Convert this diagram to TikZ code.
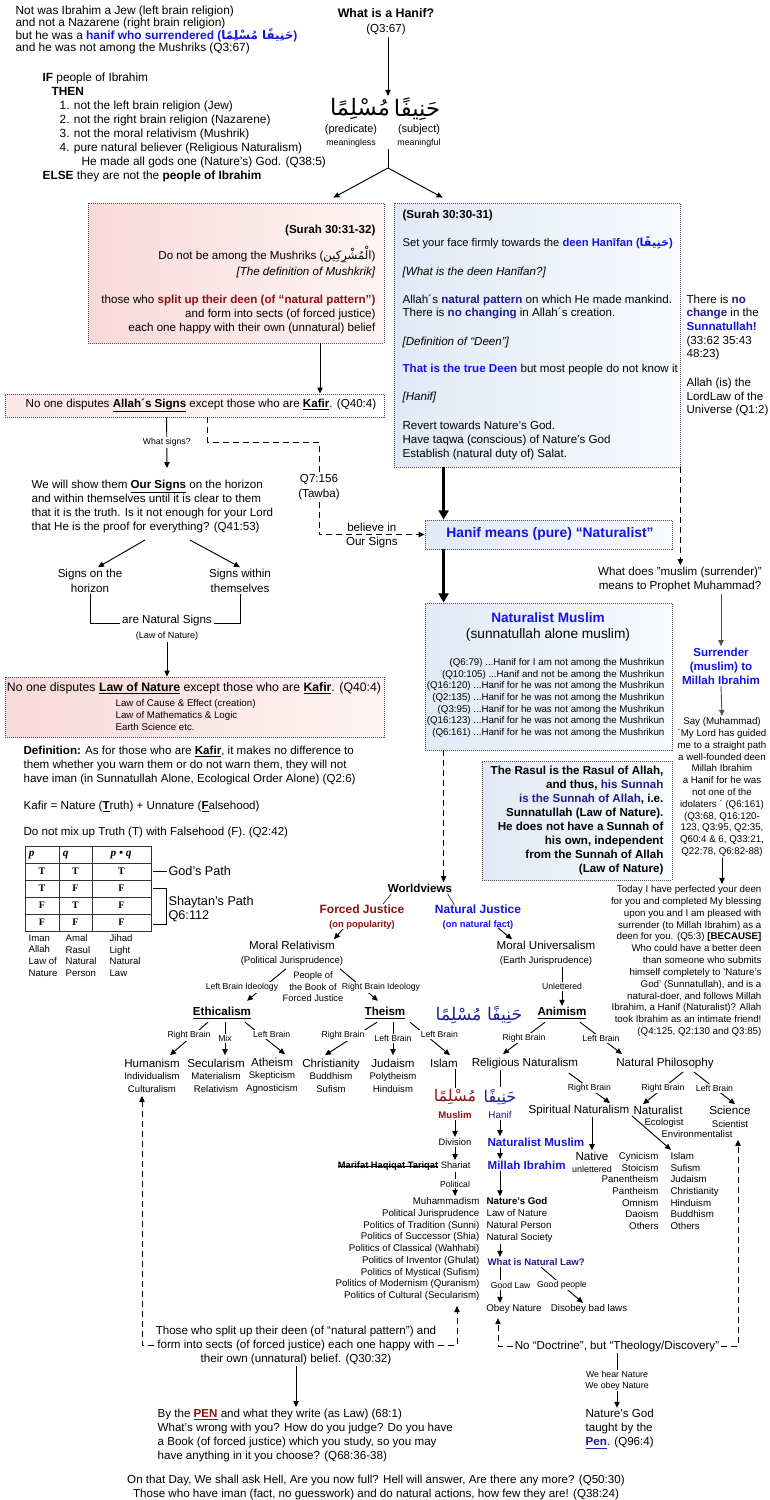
\documentclass[tikz,border=0pt]{standalone}
\usepackage{fontspec}
\usepackage{xcolor}
\usetikzlibrary{positioning,arrows.meta,calc,fit}
\setmainfont{Liberation Sans}
\newfontfamily\arabicfont[Script=Arabic]{DejaVu Sans}
\newfontfamily\tabfont{Liberation Serif}
\TeXXeTstate=1
\definecolor{hblue}{HTML}{1414E6}
\definecolor{hnavy}{HTML}{1E1E8C}
\definecolor{hred}{HTML}{8E1212}
\definecolor{pinkA}{HTML}{F9D9D9}
\definecolor{pinkB}{HTML}{FFF4F4}
\definecolor{pinkC}{HTML}{FBE6E6}
\definecolor{blueA}{HTML}{E2E9F5}
\definecolor{blueB}{HTML}{F8FAFD}
\definecolor{arrowgray}{HTML}{505050}
\newcommand{\fmain}{\fontsize{8.7}{10.5}\selectfont}
\newcommand{\subtxt}[1]{{\fontsize{7.2}{8}\selectfont #1}}
\newcommand{\arab}[1]{{\arabicfont\beginR #1\endR}}
\newsavebox{\strikebox}
\newcommand{\strikeout}[1]{\sbox{\strikebox}{#1}\rlap{\usebox{\strikebox}}\rule[0.3ex]{\wd\strikebox}{0.45pt}}

\begin{document}
\begin{tikzpicture}[x=0.75pt,y=-0.75pt,every node/.style={font=\fmain,inner sep=1pt}]
  \tikzstyle{arr}=[-{Triangle[length=4.5pt,width=4pt]},line width=0.7pt]
  \tikzstyle{grayarr}=[arr,draw=arrowgray]
  \tikzstyle{thickarr}=[-{Triangle[length=7pt,width=7.5pt]},line width=2.2pt]
  \tikzstyle{dashline}=[line width=0.7pt,dash pattern=on 4.5pt off 3pt]
  \tikzstyle{dasharr}=[dashline,-{Triangle[length=4.5pt,width=4pt]}]
  \tikzstyle{lbl}=[font=\fontsize{6.5}{7.6}\selectfont,fill=white,inner sep=1pt]
  \tikzstyle{redpanel}=[draw=black!70,line width=0.6pt,dash pattern=on 0.75pt off 0.75pt,
                        left color=pinkA,right color=pinkB,inner sep=0pt]
  \tikzstyle{signpanel}=[draw=black!70,line width=0.6pt,dash pattern=on 0.75pt off 0.75pt,
                        left color=pinkC,right color=white,inner sep=0pt]
  \tikzstyle{bluepanel}=[draw=black!70,line width=0.6pt,dash pattern=on 0.75pt off 0.75pt,
                        left color=blueA,right color=blueB,inner sep=0pt]
  \tikzstyle{wvitem}=[align=center,font=\fontsize{8.7}{9.4}\selectfont]
  \tikzstyle{tabcell}=[font=\tabfont\bfseries\fontsize{7.5}{8}\selectfont,inner sep=0.5pt]
  \tikzstyle{tabline}=[line width=0.6pt,draw=black!80]
  \useasboundingbox (0,0) rectangle (770,1500);
  \fill[white] (0,0) rectangle (770,1500);

  % panels
  \node[redpanel,fit={(88,203) (384,343)}] (surahred) {};
  \node[bluepanel,fit={(394,203) (680,467)}] (surahblue) {};
  \node[signpanel,fit={(5,394) (384,417)}] (disputes) {};
  \node[redpanel,fit={(5,677) (384,737)}] (lawpanel) {};
  \node[bluepanel,fit={(425,520) (672,549)}] (hanifnat) {};
  \node[bluepanel,fit={(425,603) (672,750)}] (natpanel) {};
  \node[bluepanel,fit={(482,761) (672,880)}] (rasulpanel) {};

  % top
  \node[anchor=west,align=left,font=\fontsize{8.9}{9.2}\selectfont] (intro) at (14,30)
    {Not was Ibrahim a Jew (left brain religion)\\and not a Nazarene (right brain religion)\\
     but he was a \textcolor{hblue}{\textbf{hanif who surrendered (\smash{\arab{حَنِيفًا مُسْلِمًا}})}}\\
     and he was not among the Mushriks (Q3:67)};
  \node[anchor=west,align=left,font=\fontsize{8.9}{10.5}\selectfont] (ifthen) at (41,127)
    {\textbf{IF} people of Ibrahim\\\hspace*{6.8pt}\textbf{THEN}\\
     \hspace*{12.8pt}1. not the left brain religion (Jew)\\
     \hspace*{12.8pt}2. not the right brain religion (Nazarene)\\
     \hspace*{12.8pt}3. not the moral relativism (Mushrik)\\
     \hspace*{12.8pt}4. pure natural believer (Religious Naturalism)\\
     \hspace*{29.3pt}He made all gods one (Nature’s) God. (Q38:5)\\
     \textbf{ELSE} they are not the \textbf{people of Ibrahim}};
  \node[align=center,font=\fontsize{8.7}{11.2}\selectfont] (title) at (386,22)
    {{\fontsize{9.3}{11.2}\selectfont\bfseries What is a Hanif?}\\(Q3:67)};
  \node[font=\fontsize{17}{20}\selectfont] (armuslim) at (360,109) {\arab{مُسْلِمًا}};
  \node[font=\fontsize{17}{20}\selectfont] (arhanif) at (417,109) {\arab{حَنِيفًا}};
  \node[align=center,font=\fontsize{8.2}{9.8}\selectfont] (pred) at (351,136)
    {(predicate)\\{\fontsize{6.6}{8}\selectfont meaningless}};
  \node[align=center,font=\fontsize{8.2}{9.8}\selectfont] (subj) at (419,136)
    {(subject)\\{\fontsize{6.6}{8}\selectfont meaningful}};
  \coordinate (fork) at (388,168);

  % red panel text
  \node[anchor=east] (redhead) at (377,230) {\textbf{(Surah 30:31-32)}};
  \node[anchor=east] (redmush) at (377,255) {Do not be among the Mushriks (\arab{الْمُشْرِكِين})};
  \node[anchor=east] (reddef) at (377,272) {\textit{[The definition of Mushkrik]}};
  \node[anchor=east,align=right] (redsplit) at (377,314)
    {those who \textcolor{hred}{\textbf{split up their deen (of “natural pattern”)}}\\
     and form into sects (of forced justice)\\each one happy with their own (unnatural) belief};

  % blue panel text
  \node[anchor=west] (bluehead) at (401,215) {\textbf{(Surah 30:30-31)}};
  \node[anchor=west,font=\fontsize{8.4}{10}\selectfont] (blueset) at (401,243)
    {Set your face firmly towards the \textcolor{hblue}{\textbf{deen Hanīfan (\arab{حَنِيفًا})}}};
  \node[anchor=west] (bluewhat) at (401,272) {\textit{[What is the deen Hanīfan?]}};
  \node[anchor=west,align=left,font=\fontsize{8.7}{9.8}\selectfont] (bluepat) at (401,306.5)
    {Allah´s \textcolor{hnavy}{\textbf{natural pattern}} on which He made mankind.\\
     There is \textcolor{hnavy}{\textbf{no changing}} in Allah´s creation.};
  \node[anchor=west] (bluedef) at (401,342) {\textit{[Definition of “Deen”]}};
  \node[anchor=west] (bluetrue) at (401,369)
    {\textcolor{hblue}{\textbf{That is the true Deen}} but most people do not know it};
  \node[anchor=west] (bluehanif) at (401,397) {\textit{[Hanif]}};
  \node[anchor=west,align=left] (bluerevert) at (401,440)
    {Revert towards Nature’s God.\\Have taqwa (conscious) of Nature’s God\\Establish (natural duty of) Salat.};
  \node[anchor=west,align=left,font=\fontsize{8.7}{10.3}\selectfont] (nochange) at (685,327.5)
    {There is \textcolor{hnavy}{\textbf{no}}\\\textcolor{hnavy}{\textbf{change}} in the\\
     \textcolor{hblue}{\textbf{Sunnatullah!}}\\(33:62 35:43\\48:23)};
  \node[anchor=west,align=left,font=\fontsize{8.7}{10.3}\selectfont] (lordlaw) at (685,397)
    {Allah (is) the\\LordLaw of the\\Universe (Q1:2)};

  % signs
  \node (disputestxt) at (201,405.5)
    {No one disputes \underline{\textbf{Allah´s Signs}} except those who are \underline{\textbf{Kafir}}. (Q40:4)};
  \node[anchor=north west,align=left] (showtxt) at (30,478)
    {We will show them \underline{\textbf{Our Signs}} on the horizon\\
     and within themselves until it is clear to them\\
     that it is the truth. Is it not enough for your Lord\\
     that He is the proof for everything? (Q41:53)};
  \node[align=center,font=\fontsize{8.7}{11.2}\selectfont] (tawba) at (319,487.5) {Q7:156\\(Tawba)};
  \node[align=center,font=\fontsize{8.7}{11.2}\selectfont] (horizon) at (90,580.5) {Signs on the\\horizon};
  \node[align=center,font=\fontsize{8.7}{11.2}\selectfont] (within) at (240,580.5) {Signs within\\themselves};
  \node[anchor=base,inner sep=1.5pt] (natsigns) at (167,623) {are Natural Signs};
  \node[font=\fontsize{6.8}{8}\selectfont] (lawnat) at (167,636) {(Law of Nature)};
  \node[font=\fontsize{9.2}{11}\selectfont] (lawtxt) at (194,688)
    {No one disputes \underline{\textbf{Law of Nature}} except those who are \underline{\textbf{Kafir}}. (Q40:4)};
  \node[anchor=west,align=left,font=\fontsize{7.3}{9}\selectfont] (lawlist) at (114,715)
    {Law of Cause \& Effect (creation)\\Law of Mathematics \& Logic\\Earth Science etc.};
  \node[anchor=west,align=left] (defkafir) at (22,765)
    {\textbf{Definition:} As for those who are \underline{\textbf{Kafir}}, it makes no difference to\\
     them whether you warn them or do not warn them, they will not\\
     have iman (in Sunnatullah Alone, Ecological Order Alone) (Q2:6)};
  \node[anchor=west] (kafireq) at (22,807)
    {Kafir = Nature (\underline{\textbf{T}}ruth) + Unnature (\underline{\textbf{F}}alsehood)};
  \node[anchor=west] (mixup) at (22,832) {Do not mix up Truth (T) with Falsehood (F). (Q2:42)};

  % truth table
  \draw[tabline] (25,846) rectangle (151,931);
  \foreach \y in {863,880,897,914} \draw[tabline] (25,\y) -- (151,\y);
  \foreach \x in {59,92} \draw[tabline] (\x,846) -- (\x,931);
  \node[tabcell,font=\tabfont\bfseries\itshape\fontsize{8.5}{9}\selectfont,anchor=west] (hp) at (28,855) {p};
  \node[tabcell,font=\tabfont\bfseries\itshape\fontsize{8.5}{9}\selectfont,anchor=west] (hq) at (62,855) {q};
  \node[tabcell,font=\tabfont\bfseries\itshape\fontsize{8.5}{9}\selectfont] (hpq) at (121,855) {p • q};
  \foreach \ca/\cb/\cc [count=\i] in {T/T/T,T/F/F,F/T/F,F/F/F} {
    \node[tabcell] (cp\i) at (42,{854.5+17*\i}) {\ca};
    \node[tabcell] (cq\i) at (75.5,{854.5+17*\i}) {\cb};
    \node[tabcell] (cpq\i) at (121.5,{854.5+17*\i}) {\cc};
  }
  \coordinate (row1end) at (153,871);
  \node[anchor=west,font=\fontsize{9.5}{11.5}\selectfont] (godpath) at (167,871) {God's Path};
  \draw (row1end) -- (godpath.west);
  \draw (153,888) -| (166,924) -- (153,924);
  \node[anchor=west,align=left,font=\fontsize{9.5}{10.5}\selectfont] (shaytan) at (167,909) {Shaytan's Path\\Q6:112};
  \node[anchor=west,align=left,font=\fontsize{7.2}{8.8}\selectfont] (colp) at (27,955.5) {Iman\\Allah\\Law of\\Nature};
  \node[anchor=west,align=left,font=\fontsize{7.2}{8.8}\selectfont] (colq) at (64,955.5) {Amal\\Rasul\\Natural\\Person};
  \node[anchor=west,align=left,font=\fontsize{7.2}{8.8}\selectfont] (colpq) at (108,955.5) {Jihad\\Light\\Natural\\Law};

  % right column
  \node[font=\fontsize{10.4}{12}\selectfont\bfseries,text=hblue] (hanifnattxt) at (550,534)
    {Hanif means (pure) “Naturalist”};
  \node[align=center,font=\fontsize{8.7}{11.2}\selectfont] (muslimq) at (680,579.5)
    {What does "muslim (surrender)"\\means to Prophet Muhammad?};
  \node[align=center,font=\fontsize{8.7}{10.5}\selectfont\bfseries,text=hblue] (surrender) at (721,666)
    {Surrender\\(muslim) to\\Millah Ibrahim};
  \node[align=center,font=\fontsize{7.3}{8.85}\selectfont] (saytxt) at (722,787)
    {Say (Muhammad)\\´My Lord has guided\\me to a straight path\\a well-founded deen\\Millah Ibrahim\\
     a Hanif for he was\\not one of the\\idolaters ´ (Q6:161)\\(Q3:68, Q16:120-\\123, Q3:95, Q2:35,\\
     Q60:4 \& 6, Q33:21,\\Q22:78, Q6:82-88)};
  \node[anchor=east,align=right,font=\fontsize{7.3}{8.87}\selectfont] (todaytxt) at (763,961)
    {Today I have perfected your deen\\for you and completed My blessing\\upon you and I am pleased with\\
     surrender (to Millah Ibrahim) as a\\deen for you. (Q5:3) \textbf{[BECAUSE]}\\
     Who could have a better deen\\than someone who submits\\himself completely to 'Nature's\\
     God' (Sunnatullah), and is a\\natural-doer, and follows Millah\\
     Ibrahim, a Hanif (Naturalist)? Allah\\took Ibrahim as an intimate friend!\\(Q4:125, Q2:130 and Q3:85)};
  \node[font=\fontsize{10.2}{12}\selectfont\bfseries,text=hblue] (natmtitle) at (548,618) {Naturalist Muslim};
  \node[font=\fontsize{10.3}{12}\selectfont] (natmsub) at (548,635) {(sunnatullah alone muslim)};
  \node[anchor=east,align=right,font=\fontsize{7.3}{8.75}\selectfont] (natmlist) at (666,698)
    {(Q6:79) ...Hanif for I am not among the Mushrikun\\
     (Q10:105) ...Hanif and not be among the Mushrikun\\
     (Q16:120) ...Hanif for he was not among the Mushrikun\\
     (Q2:135) ...Hanif for he was not among the Mushrikun\\
     (Q3:95) ...Hanif for he was not among the Mushrikun\\
     (Q16:123) ...Hanif for he was not among the Mushrikun\\
     (Q6:161) ...Hanif for he was not among the Mushrikun};
  \node[anchor=east,align=right,font=\fontsize{8.7}{10.5}\selectfont\bfseries] (rasultxt) at (665,820)
    {The Rasul is the Rasul of Allah,\\and thus, \textcolor{hnavy}{his Sunnah}\\
     \textcolor{hnavy}{is the Sunnah of Allah}, i.e.\\Sunnatullah (Law of Nature).\\
     He does not have a Sunnah of\\his own, independent\\from the Sunnah of Allah\\(Law of Nature)};

  % worldviews
  \node[font=\fontsize{8.7}{10}\selectfont\bfseries] (worldviews) at (420,888) {Worldviews};
  \node[align=center,text=hred,font=\fontsize{9}{10.5}\selectfont\bfseries] (forced) at (362,917)
    {Forced Justice\\{\fontsize{7}{8}\selectfont (on popularity)}};
  \node[align=center,text=hblue,font=\fontsize{9}{10.5}\selectfont\bfseries] (natjust) at (478,917)
    {Natural Justice\\{\fontsize{7}{8}\selectfont (on natural fact)}};
  \node[align=center] (moralrel) at (292,953) {Moral Relativism\\\subtxt{(Political Jurisprudence)}};
  \node[align=center] (moraluni) at (546,953) {Moral Universalism\\\subtxt{(Earth Jurisprudence)}};
  \node[align=center,font=\fontsize{7}{8.6}\selectfont] (bookforced) at (313,987)
    {People of\\the Book of\\Forced Justice};
  \node[font=\fontsize{8.7}{10}\selectfont\bfseries] (ethic) at (222,1013) {\underline{Ethicalism}};
  \node[font=\fontsize{8.7}{10}\selectfont\bfseries] (theism) at (385,1013) {\underline{Theism}};
  \node[font=\fontsize{13}{15}\selectfont,text=hnavy] (armid) at (479,1015) {\arab{حَنِيفًا مُسْلِمًا}};
  \node[font=\fontsize{8.7}{10}\selectfont\bfseries] (animism) at (562,1013) {\underline{Animism}};

  \node[wvitem] (human) at (152,1075.5) {Humanism\\\subtxt{Individualism}\\\subtxt{Culturalism}};
  \node[wvitem] (secular) at (216,1075.5) {Secularism\\\subtxt{Materialism}\\\subtxt{Relativism}};
  \node[wvitem] (atheism) at (272,1075.5) {Atheism\\\subtxt{Skepticism}\\\subtxt{Agnosticism}};
  \node[wvitem] (christ) at (331,1075.5) {Christianity\\\subtxt{Buddhism}\\\subtxt{Sufism}};
  \node[wvitem] (judaism) at (393,1075.5) {Judaism\\\subtxt{Polytheism}\\\subtxt{Hinduism}};
  \node[wvitem] (islam) at (444,1063) {Islam};
  \node[wvitem] (relnat) at (525,1063) {Religious Naturalism};
  \node[wvitem] (natphil) at (665,1063) {Natural Philosophy};

  % islam column
  \node[font=\fontsize{12}{14}\selectfont,text=hred] (armus2) at (455,1097) {\arab{مُسْلِمًا}};
  \node[font=\fontsize{7.2}{8}\selectfont\bfseries,text=hred] (muslimlbl) at (455,1115) {Muslim};
  \node[font=\fontsize{7}{8}\selectfont] (division) at (455,1142) {Division};
  \node[anchor=east,font=\fontsize{7}{8}\selectfont] (shariat) at (472,1166)
    {\strikeout{\textbf{Marifat Haqiqat Tariqat}} Shariat};
  \node[anchor=east,align=right,font=\fontsize{7.3}{8.8}\selectfont] (politics) at (481,1249)
    {Muhammadism\\Political Jurisprudence\\Politics of Tradition (Sunni)\\Politics of Successor (Shia)\\
     Politics of Classical (Wahhabi)\\Politics of Inventor (Ghulat)\\Politics of Mystical (Sufism)\\
     Politics of Modernism (Quranism)\\Politics of Cultural (Secularism)};

  % hanif column
  \node[font=\fontsize{12}{14}\selectfont,text=hnavy] (arhan2) at (500,1097) {\arab{حَنِيفًا}};
  \node[font=\fontsize{7.4}{8}\selectfont,text=hnavy] (hanif2) at (500,1115) {Hanif};
  \node[anchor=west,font=\fontsize{8.7}{10}\selectfont\bfseries,text=hblue] (natmus2) at (486,1142) {Naturalist Muslim};
  \node[anchor=west,font=\fontsize{8.7}{10}\selectfont\bfseries,text=hblue] (millah2) at (486,1165) {Millah Ibrahim};
  \node[anchor=west,align=left,font=\fontsize{7.3}{8.8}\selectfont] (natgod) at (485,1220)
    {\textbf{Nature’s God}\\Law of Nature\\Natural Person\\Natural Society};
  \node[anchor=west,font=\fontsize{7.2}{8}\selectfont\bfseries,text=hnavy] (whatlaw) at (486,1262) {What is Natural Law?};
  \node[font=\fontsize{7.3}{8}\selectfont] (obey) at (514,1309) {Obey Nature};
  \node[font=\fontsize{7.3}{8}\selectfont] (disobey) at (589,1309) {Disobey bad laws};

  % natural philosophy column
  \node[wvitem] (spiritual) at (579,1110) {Spiritual Naturalism};
  \node[wvitem] (naturalist) at (658,1110) {Naturalist};
  \node[font=\fontsize{7.2}{8}\selectfont] (ecol) at (664,1123) {Ecologist};
  \node[font=\fontsize{7.2}{8}\selectfont] (envir) at (697,1134) {Environmentalist};
  \node[align=center,font=\fontsize{8.7}{9.8}\selectfont] (science) at (730,1116.5) {Science\\\subtxt{Scientist}};
  \node[align=center,font=\fontsize{8.7}{9}\selectfont] (native) at (592,1162)
    {Native\\{\fontsize{6.7}{8}\selectfont unlettered}};
  \node[anchor=east,align=right,font=\fontsize{7.3}{8.75}\selectfont] (cynic) at (660,1191)
    {Cynicism\\Stoicism\\Panentheism\\Pantheism\\Omnism\\Daoism\\Others};
  \node[anchor=west,align=left,font=\fontsize{7.3}{8.75}\selectfont] (isl) at (669,1191)
    {Islam\\Sufism\\Judaism\\Christianity\\Hinduism\\Buddhism\\Others};

  % bottom
  \node (nodoc) at (617,1346) {No “Doctrine”, but “Theology/Discovery”};
  \node[anchor=west,align=left] (taught) at (584,1429)
    {Nature’s God\\taught by the\\\textcolor{hnavy}{\underline{\textbf{Pen}}}. (Q96:4)};
  \node[align=center] (splitup) at (296,1345)
    {Those who split up their deen (of “natural pattern”) and\\
     form into sects (of forced justice) each one happy with\\their own (unnatural) belief. (Q30:32)};
  \node[anchor=west,align=left] (pentxt) at (156,1435)
    {By the \textcolor{hred}{\underline{\textbf{PEN}}} and what they write (as Law) (68:1)\\
     What’s wrong with you? How do you judge? Do you have\\
     a Book (of forced justice) which you study, so you may\\
     have anything in it you choose? (Q68:36-38)};
  \node[align=center] (lastday) at (376,1487)
    {On that Day, We shall ask Hell, Are you now full? Hell will answer, Are there any more? (Q50:30)\\
     Those who have iman (fact, no guesswork) and do natural actions, how few they are! (Q38:24)};

  % connectors: top
  \draw[arr] (fork |- title.south) -- (fork |- arhanif.north);
  \draw (fork |- pred.south) -- (fork);
  \draw[arr] (fork) -- ($(surahred.north east)+(-51,-5)$);
  \draw[arr] (fork) -- ($(surahblue.north west)+(49,-5)$);
  \draw[arr] ($(surahred.south)+(84,0)$) -- ($(disputes.north)+(125.5,0)$);
  \draw[arr] ($(disputes.south west)+(162,0)$) -- node[lbl]{What signs?} ($(showtxt.north west)+(137,-10)$);
  \draw[dashline] ($(disputes.south west)+(203,0)$) -- ++(0,25) -| (tawba.north);
  \draw[dasharr] (tawba.south) |- node[pos=0.75,above,inner sep=1.5pt]{believe in}
                                  node[pos=0.75,below,inner sep=1.5pt]{Our Signs} (hanifnat.west);
  \draw[arr] ($(showtxt.south west)+(115,6)$) -- ($(horizon.north)+(8,0)$);
  \draw[arr] ($(showtxt.south west)+(160,6)$) -- (within.north);
  \draw (horizon.south) |- (natsigns.base west);
  \draw (natsigns.base east) -| (within.south);
  \draw[arr] (lawnat.south) -- (lawnat.south |- lawpanel.north);

  % connectors: right column
  \draw[thickarr] ($(surahblue.south west)+(50,0)$) -- ($(hanifnat.north west)+(19,0)$);
  \draw[thickarr] ($(hanifnat.south west)+(19,0)$) -- ($(natpanel.north west)+(19,0)$);
  \draw[dasharr] (surahblue.south east) -- (surahblue.south east |- muslimq.north);
  \draw[grayarr] (surrender.north |- muslimq.south) -- (surrender.north);
  \draw[grayarr] (surrender.south) -- (saytxt.north);
  \draw[arr] (saytxt.south) -- (saytxt.south |- todaytxt.north);
  \coordinate (wvx) at ($(natpanel.south west)+(19,0)$);
  \draw[dasharr] (wvx) -- (wvx |- worldviews.north);

  % connectors: worldviews
  \draw ($(worldviews.south west)+(5,0)$) -- ($(forced.north east)+(-23,1)$);
  \draw ($(worldviews.south east)+(-6,0)$) -- ($(natjust.north west)+(21,2)$);
  \draw[arr] ($(forced.south)+(-19,-2)$) -- ($(moralrel.north)+(42,0)$);
  \draw[arr] ($(natjust.south)+(20,-3)$) -- ($(moraluni.north)+(-34,0)$);
  \draw[arr] ($(moralrel.south)+(-6,2)$) -- node[lbl,pos=0.5,xshift=-18.4pt,yshift=-2.2pt]{Left Brain Ideology}
             ($(ethic.north)+(25,-5)$);
  \draw[arr] ($(moralrel.south)+(48,2)$) -- node[lbl,pos=0.5,xshift=16.5pt,yshift=-2.2pt]{Right Brain Ideology}
             ($(theism.north)+(-7,-5)$);
  \draw[arr] (moraluni.south -| animism.north) -- node[lbl]{Unlettered} (animism.north);
  \draw[arr] ($(ethic.south)+(-14,2)$) -- node[lbl,yshift=2.5pt]{Right Brain} ($(human.north)+(18,-2)$);
  \draw[arr] ($(ethic.south)+(3,2)$) -- node[lbl]{Mix} ($(secular.north)+(9,-2)$);
  \draw[arr] ($(ethic.south)+(23,2)$) -- node[lbl,xshift=5pt,yshift=2.5pt]{Left Brain} ($(atheism.north)+(13,-2)$);
  \draw[arr] ($(theism.south)+(-8,2)$) -- node[lbl,xshift=-6pt,yshift=2.5pt]{Right Brain} ($(christ.north)+(-6,-2)$);
  \draw[arr] ($(theism.south)+(8,2)$) -- node[lbl]{Left Brain} ($(judaism.north)+(0,-2)$);
  \draw[arr] ($(theism.south)+(25,2)$) -- node[lbl,xshift=7pt,yshift=3pt]{Left Brain} ($(islam.north)+(6,-2)$);
  \draw[arr] ($(animism.south)+(-17,2)$) -- node[lbl]{Right Brain} ($(relnat.north)+(-22,-2)$);
  \draw[arr] ($(animism.south)+(18,2)$) -- node[lbl]{Left Brain} ($(natphil.north)+(-43,-2)$);

  % connectors: islam and hanif columns
  \draw (islam.south -| armus2.north) -- (armus2.north);
  \draw[arr] (muslimlbl.south) -- (division.north);
  \draw[arr] (division.south) -- (division.south |- shariat.north);
  \draw[arr] (division.south |- shariat.south) -- node[lbl]{Political} (division.south |- politics.north);
  \draw (relnat.south -| arhan2.north) -- (arhan2.north);
  \draw[arr] (hanif2.south) -- (hanif2.south |- natmus2.north);
  \draw[arr] (hanif2.south |- natmus2.south) -- (hanif2.south |- millah2.north);
  \draw[arr] (hanif2.south |- millah2.south) -- (hanif2.south |- natgod.north);
  \draw[arr] (hanif2.south |- natgod.south) -- (hanif2.south |- whatlaw.north);
  \draw[arr] (hanif2.south |- whatlaw.south) -- node[lbl,xshift=8pt]{Good Law} (hanif2.south |- obey.north);
  \draw[arr] ($(whatlaw.south west)+(55,0)$) -- node[lbl]{Good people} ($(disobey.north)+(-6,0)$);

  % connectors: natural philosophy
  \draw[arr] ($(relnat.south east)+(-11,3)$) -- node[lbl]{Right Brain} ($(spiritual.north)+(31,0)$);
  \draw[arr] ($(natphil.south)+(18,2)$) -- node[lbl]{Right Brain} ($(naturalist.north)+(-15,0)$);
  \draw[arr] ($(natphil.south)+(29,2)$) -- node[lbl]{Left Brain} ($(science.north)+(5,0)$);
  \draw[arr] (native.north |- spiritual.south) -- (native.north);
  \draw[arr] (naturalist.south west) -- ($(isl.north west)+(2,-1)$);

  % connectors: bottom
  \draw[dasharr] (nodoc.east) -| ($(science.south)+(8,11)$);
  \draw[dasharr] (nodoc.west) -| ($(obey.south)+(-16,3)$);
  \draw[arr] (nodoc.south) -- node[lbl,align=center,font=\fontsize{6.6}{8.2}\selectfont]{We hear Nature\\We obey Nature}
             (nodoc.south |- taught.north);
  \draw[dasharr] (splitup.west) -| ($(human.south)+(-10,2)$);
  \draw[dasharr] (splitup.east) -| ($(politics.south east)+(-24,4)$);
  \draw[arr] (splitup.south) -- (splitup.south |- pentxt.north);
\end{tikzpicture}
\end{document}
